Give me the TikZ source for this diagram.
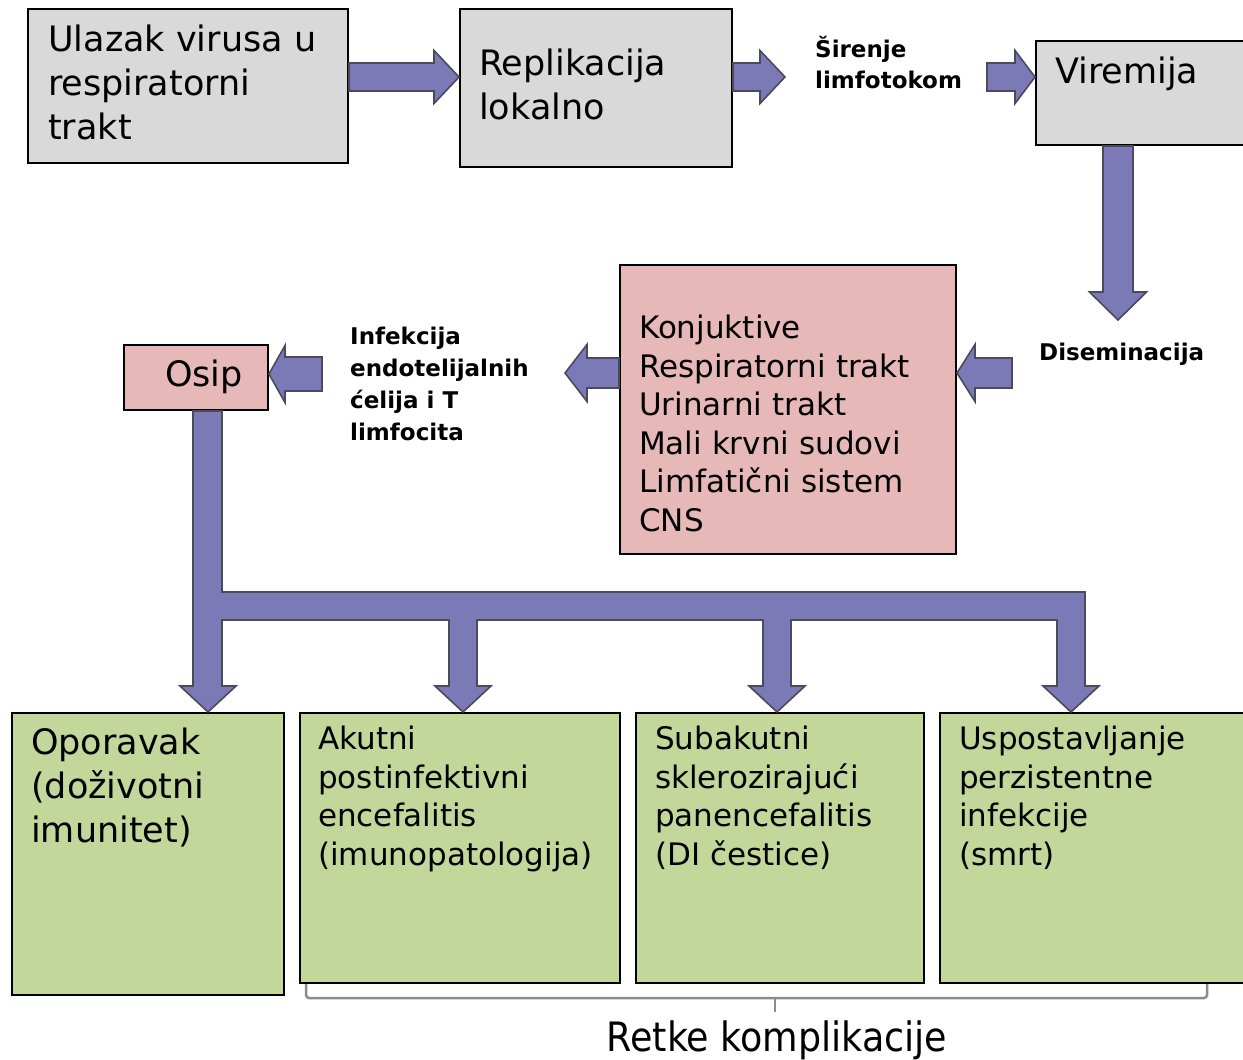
\documentclass[tikz,border=0pt]{standalone}
\usepackage{fontspec}
\setmainfont{DejaVu Sans}
\newfontfamily\condfont{DejaVu Sans Condensed}
\usetikzlibrary{calc}
\definecolor{arrfill}{HTML}{7B79B6}
\definecolor{arrline}{HTML}{4A4A5C}
\definecolor{graybox}{HTML}{D9D9D9}
\definecolor{pinkbox}{HTML}{E6B9B8}
\definecolor{greenbox}{HTML}{C4D79B}
\definecolor{brack}{HTML}{8C8C8C}
% fat block arrows between two named coordinates
\newcommand\arrH[5]{% tail, tip, head length, shaft half, head half
 \draw[fat] let \p1=(#1), \p2=(#2), \n1={ifthenelse(\x2>\x1,1,-1)} in
  (\x1,\y1+#4) -- (\x2-\n1*#3,\y1+#4) -- (\x2-\n1*#3,\y1+#5) -- (\x2,\y1)
  -- (\x2-\n1*#3,\y1-#5) -- (\x2-\n1*#3,\y1-#4) -- (\x1,\y1-#4) -- cycle;}
\newcommand\arrV[5]{% tail, tip (downwards), head length, shaft half, head half
 \draw[fat] let \p1=(#1), \p2=(#2) in
  (\x1-#4,\y1) -- (\x1-#4,\y2+#3) -- (\x1-#5,\y2+#3) -- (\x1,\y2)
  -- (\x1+#5,\y2+#3) -- (\x1+#4,\y2+#3) -- (\x1+#4,\y1) -- cycle;}
\begin{document}
\begin{tikzpicture}[x=1pt,y=-1pt,
  box/.style={draw=black, line width=2pt, inner sep=0pt, anchor=north west},
  bigtxt/.style={anchor=base west, align=left, inner sep=0pt, font=\fontsize{35}{44}\selectfont},
  midtxt/.style={anchor=base west, align=left, inner sep=0pt, font=\fontsize{31}{38.5}\selectfont},
  lbl/.style={anchor=base west, align=left, inner sep=0pt, font=\bfseries\fontsize{23}{31.5}\selectfont},
  fat/.style={fill=arrfill, draw=arrline, line width=1.6pt, line join=miter}]
\useasboundingbox (0,0) rectangle (1243,1060);
\clip (0,0) rectangle (1243,1060);
\fill[white] (0,0) rectangle (1243,1060);

% boxes
\node[box, fill=graybox, minimum width=320pt, minimum height=154pt] (b1) at (27,8) {};
\node[box, fill=graybox, minimum width=272pt, minimum height=158pt] (b2) at (459,8) {};
\node[box, fill=graybox, minimum width=230pt, minimum height=104pt] (b3) at (1035,40) {};
\node[box, fill=pinkbox, minimum width=336pt, minimum height=289pt] (pk) at (619,264) {};
\node[box, fill=pinkbox, minimum width=144pt, minimum height=65pt] (osip) at (123,344) {};
\node[box, fill=greenbox, minimum width=272pt, minimum height=282pt] (g1) at (11,712) {};
\node[box, fill=greenbox, minimum width=320pt, minimum height=270pt] (g2) at (299,712) {};
\node[box, fill=greenbox, minimum width=288pt, minimum height=270pt] (g3) at (635,712) {};
\node[box, fill=greenbox, minimum width=330pt, minimum height=270pt] (g4) at (939,712) {};

% texts (base anchor = baseline of the last line)
\node[bigtxt] (t1) at (48,139) {Ulazak virusa u\\respiratorni\\trakt};
\node[bigtxt] (t2) at (479,119) {Replikacija\\lokalno};
\node[bigtxt] (t3) at (1055,83) {Viremija};
\node[lbl, font=\bfseries\fontsize{23}{31}\selectfont] (sir) at (815,88) {Širenje\\limfotokom};
\node[lbl] (dis) at (1039,360) {Diseminacija};
\node[lbl, font=\bfseries\fontsize{23}{32}\selectfont] (inf) at (350,440) {Infekcija\\endotelijalnih\\ćelija i T\\limfocita};
\node[bigtxt] (t4) at (165,386) {Osip};
\node[midtxt] (t5) at (639,531) {Konjuktive\\Respiratorni trakt\\Urinarni trakt\\Mali krvni sudovi\\Limfatični sistem\\CNS};
\node[bigtxt] (t6) at (31,842) {Oporavak\\(doživotni\\imunitet)};
\node[midtxt] (t7) at (318,865) {Akutni\\postinfektivni\\encefalitis\\(imunopatologija)};
\node[midtxt] (t8) at (655,865) {Subakutni\\sklerozirajući\\panencefalitis\\(DI čestice)};
\node[midtxt] (t9) at (959,865) {Uspostavljanje\\perzistentne\\infekcije\\(smrt)};
\node[anchor=base, inner sep=0pt, font=\condfont\fontsize{40.5}{48}\selectfont] (rk) at (777,1051) {Retke komplikacije};

% arrow end points
\coordinate (a1s) at (b1.east |- 0,77);
\coordinate (a1e) at (b2.west |- 0,77);
\coordinate (a2s) at (b2.east |- 0,77);
\coordinate (a2e) at (785,77);
\coordinate (a3s) at (987,77);
\coordinate (a3e) at (b3.west |- 0,77);
\coordinate (a4s) at (1118,0 |- b3.south);
\coordinate (a4e) at (1118,320);
\coordinate (a5s) at (1012,373);
\coordinate (a5e) at (pk.east |- 0,373);
\coordinate (a6s) at (pk.west |- 0,373);
\coordinate (a6e) at (565,373);
\coordinate (a7s) at (322,374);
\coordinate (a7e) at (osip.east |- 0,374);

\arrH{a1s}{a1e}{25pt}{14pt}{26.5pt}
\arrH{a2s}{a2e}{25pt}{14pt}{26.5pt}
\arrH{a3s}{a3e}{20pt}{14pt}{26.5pt}
\arrV{a4s}{a4e}{28pt}{15pt}{28.5pt}
\arrH{a5s}{a5e}{18pt}{15pt}{28.5pt}
\arrH{a6s}{a6e}{22pt}{15pt}{28.5pt}
\arrH{a7s}{a7e}{16pt}{17pt}{28.5pt}

% branching tree from Osip to the four outcomes
\coordinate (tr0) at (193,0 |- osip.south);
\coordinate (tr1) at (222,0 |- osip.south);
\draw[fat] (tr0) -- (tr1) -- (222,592) -- (1085,592) -- (1085,686) -- (1099,686)
  -- (1071,0 |- g4.north) -- (1043,686) -- (1057,686) -- (1057,620) -- (791,620)
  -- (791,686) -- (805,686) -- (777,0 |- g3.north) -- (749,686) -- (763,686)
  -- (763,620) -- (477,620) -- (477,686) -- (491,686) -- (463,0 |- g2.north)
  -- (435,686) -- (449,686) -- (449,620) -- (222,620) -- (222,686) -- (236,686)
  -- (208,0 |- g1.north) -- (180,686) -- (193,686) -- cycle;

% bracket for rare complications
\coordinate (brL) at (306,0 |- g2.south);
\coordinate (brR) at (1207,0 |- g4.south);
\draw[brack, line width=2.5pt, rounded corners=3pt] (brL) -- (306,998) -- (1207,998) -- (brR);
\draw[brack, line width=2.5pt] (775,998) -- (775,1012);
\end{tikzpicture}
\end{document}
